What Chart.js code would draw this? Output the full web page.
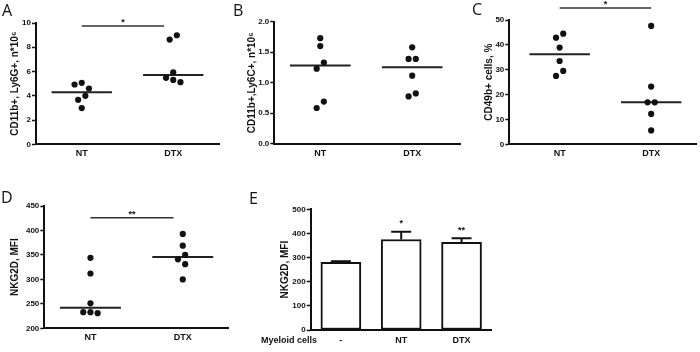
<!DOCTYPE html>
<html>
<head>
<meta charset="utf-8">
<script src="https://cdn.jsdelivr.net/npm/chart.js@4"></script>
<style>
  body { margin: 0; background: #fff; }
  #fig { position: relative; width: 700px; height: 352px; overflow: hidden; }
  #fig canvas { position: absolute; }
  .letter { position: absolute; font: 16px "Open Sans", sans-serif; line-height: 16px; color: #111; }
  .lbl { position: absolute; font: bold 9px "Liberation Sans", Arial, sans-serif; line-height: 11px; color: #111; text-align: center; }
</style>
</head>
<body>
<div id="fig">
  <canvas id="cA" width="232" height="170" style="left:0;top:0"></canvas>
  <canvas id="cB" width="232" height="170" style="left:232px;top:0"></canvas>
  <canvas id="cC" width="236" height="170" style="left:464px;top:0"></canvas>
  <canvas id="cD" width="232" height="182" style="left:0;top:170px"></canvas>
  <canvas id="cE" width="300" height="182" style="left:232px;top:170px"></canvas>
  <div class="letter" style="left:2px;top:2px">A</div>
  <div class="letter" style="left:233px;top:2px">B</div>
  <div class="letter" style="left:472px;top:1px">C</div>
  <div class="letter" style="left:1px;top:189px">D</div>
  <div class="letter" style="left:249px;top:190px">E</div>
  <div class="lbl" style="left:249px;top:335px;width:80px">Myeloid cells</div>
</div>
<script>
// groups on the x axis of the scatter panels
const groups = ['NT', 'DTX'];

// A: CD11b+ Ly6G+ (n*10^6)
const aNT = [5.07, 4.93, 4.60, 4.00, 3.67, 2.99];
const aDTX = [8.99, 8.63, 5.94, 5.48, 5.31, 5.12];
// B: CD11b+ Ly6C+ (n*10^6)
const bNT = [1.73, 1.60, 1.33, 1.23, 0.69, 0.585];
const bDTX = [1.58, 1.39, 1.39, 1.115, 0.825, 0.775];
// C: CD49b+ cells, %
const cNT = [44.5, 42.9, 38.9, 33.5, 29.5, 27.5];
const cDTX = [47.6, 23.2, 16.9, 16.9, 12.2, 5.6];
// D: NKG2D, MFI
const dNT = [344, 312, 251, 233, 231, 233];
const dDTX = [393, 369, 350, 341, 331, 300];
// E: NKG2D MFI, mean + error
const eLabels = ['-', 'NT', 'DTX'];
const eMean = [280, 375, 363];
const eErr = [5, 32, 17];
const eMarks = ['', '*', '**'];

const FONT = '"Liberation Sans", Arial, sans-serif';
const INK = '#111';
const HW = 0.33;     // half width of median line, in group units
const DOT = 7.2;     // dot spacing for the swarm, px

function median(arr) {
  const s = [...arr].sort((a, b) => a - b);
  const m = s.length / 2;
  return s.length % 2 ? s[Math.floor(m)] : (s[m - 1] + s[m]) / 2;
}

const sigPlugin = {
  id: 'sig',
  afterDatasetsDraw(chart, args, opts) {
    const s = opts.mark;
    if (!s) return;
    const { ctx, scales: { x, y } } = chart;
    const x1 = x.getPixelForValue(s.from), x2 = x.getPixelForValue(s.to), yy = y.getPixelForValue(s.y);
    ctx.save();
    ctx.strokeStyle = '#333';
    ctx.lineWidth = 1.5;
    ctx.beginPath();
    ctx.moveTo(x1, yy);
    ctx.lineTo(x2, yy);
    ctx.stroke();
    ctx.fillStyle = INK;
    ctx.font = 'bold 9px ' + FONT;
    ctx.textAlign = 'center';
    ctx.textBaseline = 'alphabetic';
    ctx.fillText(s.text, (x1 + x2) / 2, yy - 1);
    ctx.restore();
  }
};

function yAxis(p) {
  return {
    min: p.yMin, max: p.yMax,
    ticks: {
      stepSize: p.step, color: INK, padding: 1,
      font: { family: FONT, size: 8, weight: 'bold' },
      callback: v => v.toFixed(p.dec)
    },
    grid: { drawOnChartArea: false, drawTicks: true, tickLength: 4, tickColor: INK, tickWidth: 1.5 },
    border: { color: INK, width: 2 },
    title: {
      display: true, text: p.title, color: INK,
      font: { family: FONT, size: 10, weight: 'bold' },
      padding: { top: p.titlePad, bottom: 0 }
    },
    afterFit: s => { s.width = p.axisW; }
  };
}

// column scatter: push overlapping dots sideways, then centre each clump
function swarm(arr, cx, ys) {
  const order = arr.map((v, i) => i).sort((a, b) => arr[b] - arr[a]);
  const placed = [];
  const off = [];
  order.forEach(i => {
    const py = ys.getPixelForValue(arr[i]);
    for (const step of [0, -1, 1, -2, 2, -3, 3]) {
      const px = step * DOT;
      if (placed.every(q => Math.hypot(q.x - px, q.y - py) >= DOT)) {
        placed.push({ x: px, y: py });
        off[i] = px;
        break;
      }
    }
  });
  let clump = [order[0]];
  const flush = () => {
    const mean = clump.reduce((s, i) => s + off[i], 0) / clump.length;
    clump.forEach(i => { off[i] -= mean; });
  };
  for (let j = 1; j < order.length; j++) {
    const gap = ys.getPixelForValue(arr[order[j]]) - ys.getPixelForValue(arr[order[j - 1]]);
    if (gap < DOT) clump.push(order[j]);
    else { flush(); clump = [order[j]]; }
  }
  flush();
  return off.map(o => cx + o);
}

function scatterPanel(id, nt, dtx, p) {
  const vals = [nt, dtx];
  const pts = [];
  vals.forEach((arr, g) => arr.forEach(v => pts.push({ x: g + 1, y: v })));
  const medSets = vals.map((arr, g) => ({
    type: 'line',
    data: [{ x: g + 1 - HW, y: median(arr) }, { x: g + 1 + HW, y: median(arr) }],
    borderColor: '#222', borderWidth: 2, pointRadius: 0, order: 2
  }));
  const chart = new Chart(document.getElementById(id), {
    type: 'scatter',
    data: {
      datasets: [
        { data: pts, pointRadius: 3.1, pointBackgroundColor: INK, pointBorderWidth: 0, order: 1 },
        ...medSets
      ]
    },
    options: {
      responsive: false, animation: false, events: [], devicePixelRatio: 1,
      layout: { padding: p.pad },
      plugins: { legend: { display: false }, tooltip: { enabled: false }, sig: { mark: p.sig } },
      scales: {
        x: {
          type: 'linear', min: p.xMin, max: p.xMax,
          afterBuildTicks: s => { s.ticks = groups.map((g, i) => ({ value: i + 1 })); },
          ticks: {
            color: INK, padding: 4, autoSkip: false, maxRotation: 0,
            font: { family: FONT, size: 9, weight: 'bold' },
            callback: v => groups[Math.round(v) - 1]
          },
          grid: { display: false, drawTicks: false },
          border: { color: INK, width: 2 },
          afterFit: s => { s.height = 16; }
        },
        y: yAxis(p)
      }
    },
    plugins: [sigPlugin]
  });

  const xs = chart.scales.x, ys = chart.scales.y;
  let k = 0;
  vals.forEach((arr, g) => {
    const pxs = swarm(arr, xs.getPixelForValue(g + 1), ys);
    pxs.forEach((px, i) => { pts[k + i].x = xs.getValueForPixel(px); });
    k += arr.length;
  });
  chart.update('none');
  return chart;
}

scatterPanel('cA', aNT, aDTX, {
  xMin: 0.5, xMax: 2.5, yMin: 0, yMax: 10, step: 2, dec: 0,
  title: 'CD11b+, Ly6G+, n*10⁶', titlePad: 9, axisW: 36,
  pad: { left: 0, top: 23, right: 13, bottom: 9.7 },
  sig: { from: 1, to: 1.9, y: 9.75, text: '*' }
});
scatterPanel('cB', bNT, bDTX, {
  xMin: 0.5, xMax: 2.52, yMin: 0, yMax: 2, step: 0.5, dec: 1,
  title: 'CD11b+,Ly6C+, n*10⁶', titlePad: 14.7, axisW: 42.3,
  pad: { left: 0, top: 21.7, right: 4, bottom: 10.3 }
});
scatterPanel('cC', cNT, cDTX, {
  xMin: 0.45, xMax: 2.49, yMin: 0, yMax: 50, step: 10, dec: 0,
  title: 'CD49b+ cells, %', titlePad: 19, axisW: 45.3,
  pad: { left: 0, top: 20, right: 1, bottom: 9.7 },
  sig: { from: 1, to: 2, y: 54.8, text: '*' }
});
scatterPanel('cD', dNT, dDTX, {
  xMin: 0.5, xMax: 2.49, yMin: 200, yMax: 450, step: 50, dec: 0,
  title: 'NKG2D, MFI', titlePad: 9, axisW: 44.3,
  pad: { left: 0, top: 36, right: 4, bottom: 7.7 },
  sig: { from: 1, to: 1.9, y: 426, text: '**' }
});

const errPlugin = {
  id: 'err',
  afterDatasetsDraw(chart) {
    const { ctx } = chart;
    const y = chart.scales.y;
    const meta = chart.getDatasetMeta(0);
    ctx.save();
    ctx.strokeStyle = INK;
    ctx.lineWidth = 2;
    ctx.fillStyle = INK;
    ctx.font = 'bold 9px ' + FONT;
    ctx.textAlign = 'center';
    meta.data.forEach((bar, i) => {
      const top = y.getPixelForValue(eMean[i] + eErr[i]);
      ctx.beginPath();
      ctx.moveTo(bar.x, bar.y);
      ctx.lineTo(bar.x, top);
      ctx.moveTo(bar.x - 10, top);
      ctx.lineTo(bar.x + 10, top);
      ctx.stroke();
      if (eMarks[i]) ctx.fillText(eMarks[i], bar.x, top - 5.5);
    });
    ctx.restore();
  }
};

new Chart(document.getElementById('cE'), {
  type: 'bar',
  data: {
    labels: eLabels,
    datasets: [{
      data: eMean, backgroundColor: '#fff', borderColor: INK, borderWidth: 2,
      borderSkipped: false, barThickness: 40
    }]
  },
  options: {
    responsive: false, animation: false, events: [], devicePixelRatio: 1,
    layout: { padding: { left: 0, top: 39.3, right: 40.3, bottom: 6 } },
    plugins: { legend: { display: false }, tooltip: { enabled: false } },
    scales: {
      x: {
        ticks: { color: INK, padding: 5, font: { family: FONT, size: 9, weight: 'bold' } },
        grid: { display: false, drawTicks: false },
        border: { color: INK, width: 2 },
        afterFit: s => { s.height = 16; }
      },
      y: yAxis({ yMin: 0, yMax: 500, step: 100, dec: 0, title: 'NKG2D, MFI', titlePad: 47, axisW: 78.7 })
    }
  },
  plugins: [errPlugin]
});
</script>
</body>
</html>
